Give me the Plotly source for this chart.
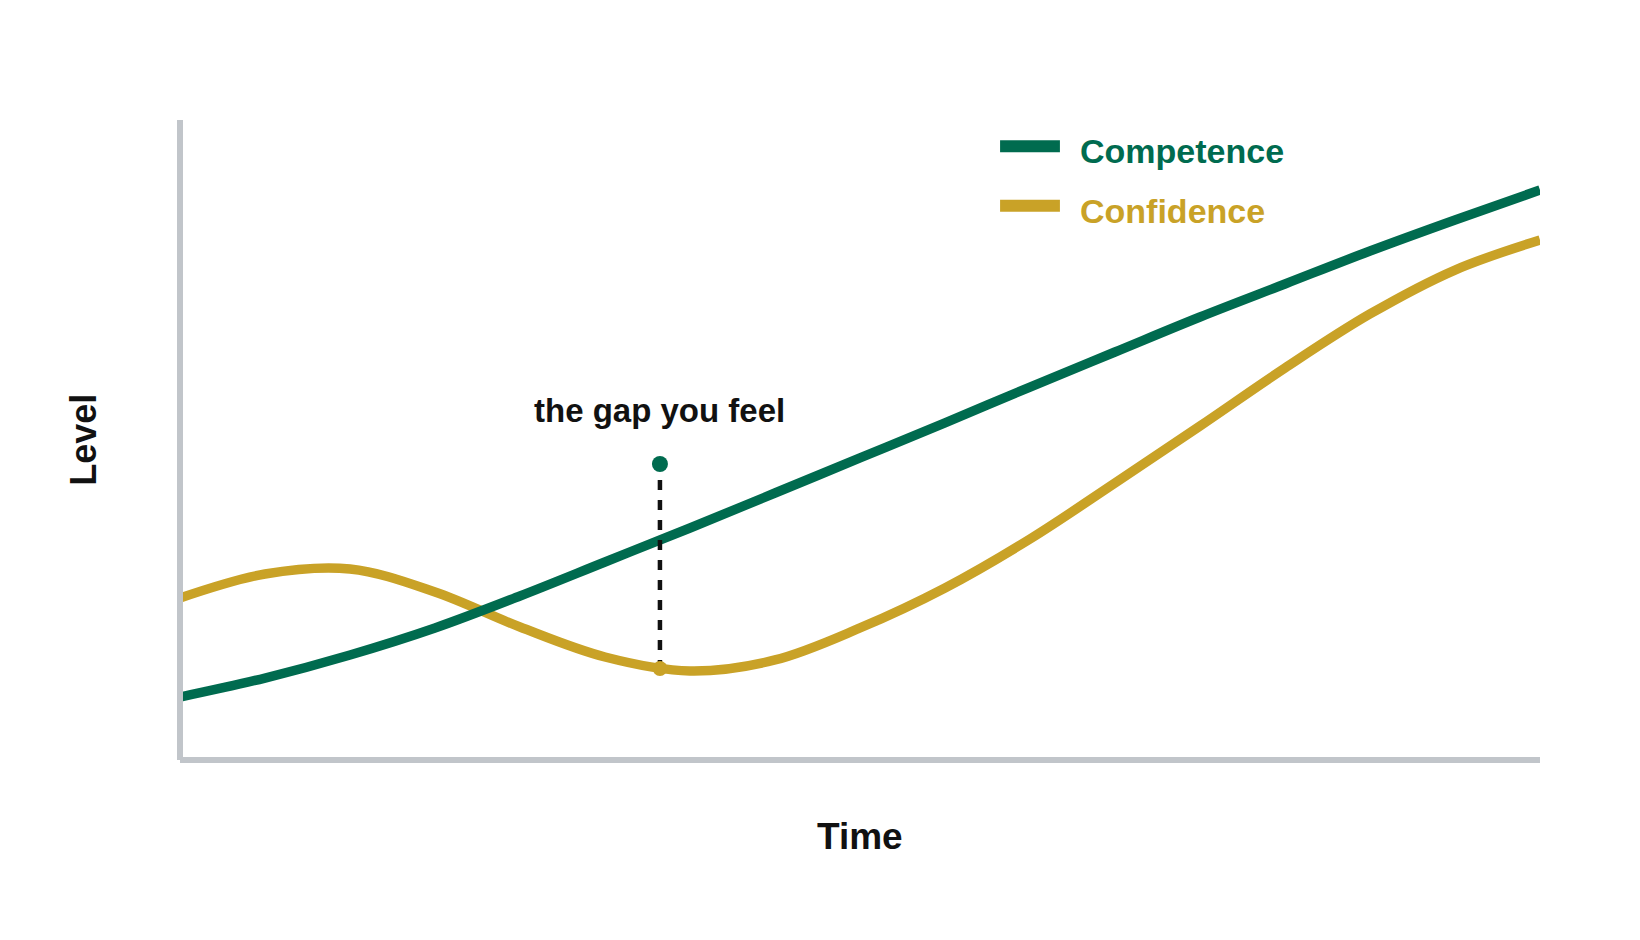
import plotly.graph_objects as go

# ---- data (time and level on a 0-100 scale) ----
time_x = [0, 6.25, 12.5, 18.75, 25, 31.25, 37.5, 43.75, 50,
          56.25, 62.5, 68.75, 75, 81.25, 87.5, 93.75, 100]
competence = [9.84, 12.81, 16.41, 20.63, 25.63, 30.94, 36.25, 41.72, 47.19,
              52.66, 58.28, 63.75, 69.22, 74.38, 79.53, 84.38, 89.06]
confidence = [25.31, 29.06, 29.84, 26.25, 20.78, 16.09, 13.91, 15.63, 20.63,
              26.88, 34.53, 43.28, 52.19, 61.25, 69.69, 76.56, 81.25]

gap_x = 35.29
gap_top = 46.25
gap_bottom = 14.3
gap_label = "the gap you feel"

series_names = ["Competence", "Confidence"]
x_title = "Time"
y_title = "Level"

GREEN = "#006B4F"
GOLD = "#C9A227"
GRAY = "#C1C5CA"
FONT = "Liberation Sans, Arial, sans-serif"

fig = go.Figure()
fig.add_trace(go.Scatter(x=time_x, y=confidence, mode="lines", name=series_names[1],
                         line=dict(color=GOLD, width=9.5, shape="spline", smoothing=1.0),
                         showlegend=False, hoverinfo="skip"))
fig.add_trace(go.Scatter(x=time_x, y=competence, mode="lines", name=series_names[0],
                         line=dict(color=GREEN, width=9.5, shape="spline", smoothing=1.0),
                         showlegend=False, hoverinfo="skip"))
# dashed gap line
fig.add_trace(go.Scatter(x=[gap_x, gap_x], y=[gap_top - 2.5, gap_bottom], mode="lines",
                         line=dict(color="#111111", width=4.5, dash="10px,10px"),
                         showlegend=False, hoverinfo="skip"))
fig.add_trace(go.Scatter(x=[gap_x], y=[gap_top], mode="markers",
                         marker=dict(color=GREEN, size=16), showlegend=False, hoverinfo="skip"))
fig.add_trace(go.Scatter(x=[gap_x], y=[gap_bottom], mode="markers",
                         marker=dict(color=GOLD, size=15), showlegend=False, hoverinfo="skip"))

# axes lines
shapes = [
    dict(type="line", xref="paper", yref="paper", x0=0, x1=0, y0=0, y1=1,
         line=dict(color=GRAY, width=6)),
    dict(type="line", xref="paper", yref="paper", x0=0, x1=1, y0=0, y1=0,
         line=dict(color=GRAY, width=6)),
    # legend swatches
    dict(type="line", xref="paper", yref="paper", x0=0.603, x1=0.647, y0=0.959, y1=0.959,
         line=dict(color=GREEN, width=12)),
    dict(type="line", xref="paper", yref="paper", x0=0.603, x1=0.647, y0=0.866, y1=0.866,
         line=dict(color=GOLD, width=12)),
]

annotations = [
    dict(x=gap_x, y=gap_top, xref="x", yref="y", text="<b>" + gap_label + "</b>",
         showarrow=False, yshift=54, font=dict(family=FONT, size=33, color="#111111")),
    dict(x=0.660, y=0.951, xref="paper", yref="paper", text="<b>" + series_names[0] + "</b>",
         xanchor="left", yanchor="middle", showarrow=False,
         font=dict(family=FONT, size=34, color=GREEN)),
    dict(x=0.660, y=0.858, xref="paper", yref="paper", text="<b>" + series_names[1] + "</b>",
         xanchor="left", yanchor="middle", showarrow=False,
         font=dict(family=FONT, size=34, color=GOLD)),
    dict(x=0.5, y=-0.12, xref="paper", yref="paper", text="<b>" + x_title + "</b>",
         xanchor="center", yanchor="middle", showarrow=False,
         font=dict(family=FONT, size=37, color="#111111")),
    dict(x=-0.0715, y=0.5, xref="paper", yref="paper", text="<b>" + y_title + "</b>",
         xanchor="center", yanchor="middle", showarrow=False, textangle=-90,
         font=dict(family=FONT, size=36, color="#111111")),
]

fig.update_layout(
    width=1640, height=940,
    margin=dict(l=180, r=100, t=120, b=180),
    paper_bgcolor="white", plot_bgcolor="white",
    xaxis=dict(range=[0, 100], showgrid=False, zeroline=False, showticklabels=False,
               showline=False, ticks=""),
    yaxis=dict(range=[0, 100], showgrid=False, zeroline=False, showticklabels=False,
               showline=False, ticks=""),
    shapes=shapes, annotations=annotations, showlegend=False,
)

fig.write_html("out.html")
